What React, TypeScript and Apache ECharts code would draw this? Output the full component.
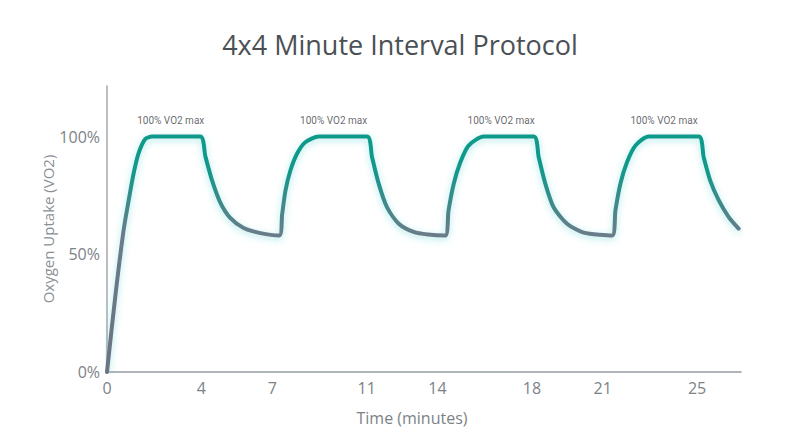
import React, { useEffect, useRef } from "react";
import * as echarts from "echarts";

const titleText = "4x4 Minute Interval Protocol";
const xAxisName = "Time (minutes)";
const yAxisName = "Oxygen Uptake (VO2)";

// x tick labels (minutes) and y tick labels (% of VO2 max)
const xTicks = [0, 4, 7, 11, 14, 18, 21, 25];
const yTicks = [0, 50, 100];

// Oxygen uptake curve
const timeMin = [
  0, 0.35, 0.7, 0.92, 1.13, 1.34, 1.62, 1.91, 3.95,
  4.17, 4.45, 4.8, 5.22, 5.79, 6.5, 7.3,
  7.42, 7.56, 7.77, 8.05, 8.4, 8.97, 11.02,
  11.23, 11.51, 11.86, 12.36, 12.99, 13.6, 14.33,
  14.47, 14.69, 14.97, 15.32, 15.96, 18.08,
  18.29, 18.57, 18.92, 19.49, 20.19, 21.4,
  21.54, 21.75, 22.03, 22.39, 22.95, 25.07,
  25.28, 25.56, 25.92, 26.34, 26.76,
];
const vo2Pct = [
  0, 32, 60, 73, 84.5, 93, 99, 100, 100,
  91.5, 81.4, 72, 65.5, 61.2, 59, 58,
  67, 77, 85.6, 92.7, 97.6, 100, 100,
  91.2, 80, 70, 63, 59.5, 58.4, 58,
  68.6, 80, 89.1, 96.2, 100, 100,
  91.2, 80, 70, 63, 59.2, 58,
  68.6, 80, 89.1, 96.2, 100, 100,
  91.2, 81.2, 72.9, 65.8, 60.9,
];

// annotation labels above each work interval
const peakLabelTime = [2.7, 9.6, 16.7, 23.6];
const peakLabelValue = [100, 100, 100, 100];
const peakLabelText = ["100% VO2 max", "100% VO2 max", "100% VO2 max", "100% VO2 max"];

const FONT = "'Open Sans', 'Liberation Sans', Arial, sans-serif";
const SMALL_FONT = "Roboto, 'Open Sans', sans-serif";

export default function App() {
  const ref = useRef<HTMLDivElement>(null);

  useEffect(() => {
    if (!ref.current) return;
    const chart = echarts.init(ref.current, undefined, { renderer: "svg" });
    const lineData = timeMin.map((t, i) => [t, vo2Pct[i]]);
    const labelData = peakLabelTime.map((t, i) => [t, peakLabelValue[i]]);

    chart.setOption({
      animation: false,
      backgroundColor: "#ffffff",
      textStyle: { fontFamily: FONT },
      title: {
        text: titleText,
        left: "center",
        top: 26,
        textStyle: {
          fontFamily: FONT,
          fontSize: 27,
          fontWeight: "normal",
          color: "#4b5055",
        },
      },
      grid: { left: 107, right: 59, top: 86, bottom: 75 },
      xAxis: {
        type: "value",
        min: 0,
        max: 26.86,
        name: xAxisName,
        nameLocation: "middle",
        nameGap: 38,
        nameTextStyle: {
          fontFamily: FONT,
          fontSize: 16,
          color: "#7d8287",
          padding: [0, 24, 0, 0],
        },
        axisLine: { show: true, lineStyle: { color: "#969ca1", width: 1.5 } },
        axisTick: { show: false },
        splitLine: { show: false },
        axisLabel: {
          customValues: xTicks,
          margin: 8,
          fontFamily: FONT,
          fontSize: 16,
          color: "#7d8287",
        },
      },
      yAxis: {
        type: "value",
        min: 0,
        max: 121.5,
        name: yAxisName,
        nameLocation: "middle",
        nameGap: 52,
        nameMoveOverlap: false,
        nameRotate: 90,
        nameTextStyle: { fontFamily: FONT, fontSize: 15, color: "#8a8f94" },
        axisLine: { show: true, lineStyle: { color: "#a3a8ad", width: 1.5 } },
        axisTick: { show: false },
        splitLine: { show: false },
        axisLabel: {
          customValues: yTicks,
          margin: 7,
          fontFamily: FONT,
          fontSize: 16,
          color: "#7d8287",
          formatter: (v: number) => `${v}%`,
        },
      },
      series: [
        {
          type: "line",
          data: lineData,
          showSymbol: false,
          symbol: "none",
          smooth: 0.25,
          lineStyle: {
            width: 4,
            cap: "round",
            join: "round",
            color: new echarts.graphic.LinearGradient(0, 0, 0, 1, [
              { offset: 0, color: "#0f9a8b" },
              { offset: 0.14, color: "#12988b" },
              { offset: 0.42, color: "#6b7b8a" },
              { offset: 1, color: "#6c7381" },
            ]),
            shadowColor: "rgba(70, 205, 205, 0.45)",
            shadowBlur: 7,
            shadowOffsetY: 2,
          },
          z: 3,
        },
        {
          type: "scatter",
          data: labelData,
          symbolSize: 0,
          silent: true,
          label: {
            show: true,
            position: "top",
            distance: 11,
            fontFamily: SMALL_FONT,
            fontSize: 10,
            color: "#3e4347",
            formatter: (p: any) => peakLabelText[p.dataIndex],
          },
          z: 4,
        },
      ],
    });

    return () => chart.dispose();
  }, []);

  return <div ref={ref} style={{ width: 800, height: 447, margin: -8 }} />;
}
